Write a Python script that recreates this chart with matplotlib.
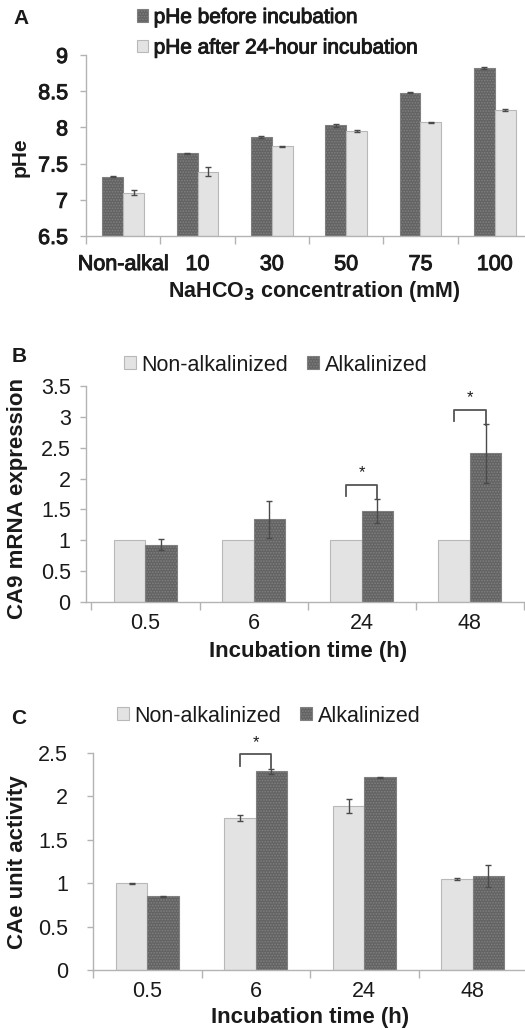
import matplotlib
matplotlib.use("Agg")
import matplotlib.pyplot as plt
import matplotlib.patheffects as pe
from matplotlib.patches import Patch
import numpy as np

plt.rcParams['font.family'] = ['Liberation Sans', 'DejaVu Sans']
plt.rcParams['hatch.linewidth'] = 0.8

# ---------------- data ----------------
a_categories = ["Non-alkal", "10", "30", "50", "75", "100"]
a_before = [7.32, 7.64, 7.87, 8.03, 8.48, 8.82]
a_before_err = [0.01, 0.01, 0.01, 0.02, 0.01, 0.01]
a_after = [7.10, 7.39, 7.74, 7.95, 8.07, 8.24]
a_after_err = [0.03, 0.06, 0.01, 0.01, 0.01, 0.02]
a_yticks = [6.5, 7, 7.5, 8, 8.5, 9]
a_yticklabels = ["6.5", "7", "7.5", "8", "8.5", "9"]

time_categories = ["0.5", "6", "24", "48"]

b_non = [1.0, 1.0, 1.0, 1.0]
b_alk = [0.93, 1.34, 1.48, 2.41]
b_alk_err = [0.085, 0.30, 0.195, 0.48]
b_yticks = [0, 0.5, 1, 1.5, 2, 2.5, 3, 3.5]
b_yticklabels = ["0", "0.5", "1", "1.5", "2", "2.5", "3", "3.5"]
b_sig_groups = [2, 3]
b_sig_top = [1.90, 3.11]
b_sig_left = [1.71, 2.93]
b_sig_right = [1.67, 2.87]

c_non = [1.00, 1.75, 1.89, 1.05]
c_non_err = [0.006, 0.035, 0.08, 0.015]
c_alk = [0.85, 2.29, 2.22, 1.085]
c_alk_err = [0.004, 0.03, 0.004, 0.13]
c_yticks = [0, 0.5, 1, 1.5, 2, 2.5]
c_yticklabels = ["0", "0.5", "1", "1.5", "2", "2.5"]
c_sig_groups = [1]
c_sig_top = [2.485]
c_sig_left = [2.35]
c_sig_right = [2.33]

# ---------------- style ----------------
W, H = 525, 1030
fig = plt.figure(figsize=(W / 100, H / 100), dpi=100)

LIGHT_FC = "#e3e3e3"
LIGHT_EC = "#b8b8b8"
DARK_FC = "#636363"
DARK_EC = "#808080"
SPINE = "#b3b3b3"
ERR = "#4a4a4a"
TXT = "#1a1a1a"
HATCH = "......"
thick = [pe.withStroke(linewidth=0.7, foreground=TXT)]


def px_axes(left, right, top, bottom):
    return fig.add_axes([left / W, 1 - bottom / H, (right - left) / W, (bottom - top) / H])


def style_axes(ax, xlim, ncat, ylim, yticks, yticklabels, tick_fs, ypad, xpad, effects=None):
    ax.set_xlim(*xlim)
    ax.set_ylim(*ylim)
    for s in ["top", "right"]:
        ax.spines[s].set_visible(False)
    for s in ["left", "bottom"]:
        ax.spines[s].set_color(SPINE)
        ax.spines[s].set_linewidth(1.0)
    ax.set_yticks(yticks)
    ax.set_yticklabels(yticklabels, fontsize=tick_fs, color=TXT)
    ax.tick_params(axis="y", length=4, width=1, color=SPINE, pad=ypad)
    ax.set_xticks(np.arange(ncat))
    ax.set_xticks(np.arange(ncat + 1) - 0.5, minor=True)
    ax.tick_params(axis="x", which="major", length=0, pad=xpad, labelsize=tick_fs, labelcolor=TXT)
    ax.tick_params(axis="x", which="minor", length=6, width=1, color=SPINE)
    if effects:
        for t in ax.get_xticklabels() + ax.get_yticklabels():
            t.set_path_effects(effects)


def place_labels(ax, left, right, top, bottom, ylab_xy, xlab_xy):
    # positions given in figure pixels
    ax.yaxis.set_label_coords((ylab_xy[0] - left) / (right - left), (bottom - ylab_xy[1]) / (bottom - top))
    ax.xaxis.set_label_coords((xlab_xy[0] - left) / (right - left), (bottom - xlab_xy[1]) / (bottom - top))
    ax.yaxis.label.set_verticalalignment("center")
    ax.yaxis.label.set_horizontalalignment("center")
    ax.xaxis.label.set_verticalalignment("center")
    ax.xaxis.label.set_horizontalalignment("center")


def bracket(ax, x0, x1, ytop, yl, yr, star_y):
    ax.plot([x0, x0, x1, x1], [yl, ytop, ytop, yr], color="#555555", lw=1.3, clip_on=False)
    ax.text((x0 + x1) / 2, star_y, "*", ha="center", va="center", fontsize=12, color=TXT)


# ---------------- Panel A ----------------
A_L, A_R, A_T, A_B = 86, 532, 55, 236
axA = px_axes(A_L, A_R, A_T, A_B)
xa = np.arange(len(a_categories))
wa = 0.28
axA.bar(xa - wa / 2, np.array(a_before) - 6.5, wa, bottom=6.5, color=DARK_FC, edgecolor=DARK_EC,
        hatch=HATCH, linewidth=0.8, zorder=2)
axA.bar(xa + wa / 2, np.array(a_after) - 6.5, wa, bottom=6.5, color=LIGHT_FC, edgecolor=LIGHT_EC,
        linewidth=0.8, zorder=2)
axA.errorbar(xa - wa / 2, a_before, yerr=a_before_err, fmt="none", ecolor=ERR, elinewidth=1, capsize=2.5, zorder=3)
axA.errorbar(xa + wa / 2, a_after, yerr=a_after_err, fmt="none", ecolor=ERR, elinewidth=1, capsize=2.5, zorder=3)
axA.set_xticklabels(a_categories)
style_axes(axA, (-0.5, 5.5), 6, (6.5, 9), a_yticks, a_yticklabels, 15.5, 9, 13, effects=thick)
axA.set_ylabel("pHe", fontsize=15, fontweight="bold", color=TXT)
axA.set_xlabel("NaHCO$_\\mathbf{3}$ concentration (mM)", fontsize=15.5, fontweight="bold", color=TXT)
place_labels(axA, A_L, A_R, A_T, A_B, (20, 157), (314, 292))
fig.text(13 / W, 1 - 19 / H, "A", fontsize=15, fontweight="bold", color=TXT, va="center", ha="left")

legA = fig.legend(handles=[Patch(facecolor=DARK_FC, edgecolor=DARK_EC, hatch=HATCH, linewidth=0.8),
                           Patch(facecolor=LIGHT_FC, edgecolor=LIGHT_EC, linewidth=0.8)],
                  labels=["pHe before incubation", "pHe after 24-hour incubation"],
                  loc="upper left", bbox_to_anchor=(137 / W, 1 - 8 / H), frameon=False,
                  fontsize=15, handlelength=0.55, handleheight=0.55, handletextpad=0.25,
                  labelspacing=0.55, borderpad=0, borderaxespad=0)
for t in legA.get_texts():
    t.set_color(TXT)
    t.set_path_effects(thick)

# ---------------- Panel B ----------------
B_L, B_R, B_T, B_B = 86, 525, 386, 602
axB = px_axes(B_L, B_R, B_T, B_B)
xt = np.arange(len(time_categories))
wb = 0.29
axB.bar(xt - wb / 2, b_non, wb, color=LIGHT_FC, edgecolor=LIGHT_EC, linewidth=0.8, zorder=2)
axB.bar(xt + wb / 2, b_alk, wb, color=DARK_FC, edgecolor=DARK_EC, hatch=HATCH, linewidth=0.8, zorder=2)
axB.errorbar(xt + wb / 2, b_alk, yerr=b_alk_err, fmt="none", ecolor=ERR, elinewidth=1, capsize=2.5, zorder=3)
axB.set_xticklabels(time_categories)
style_axes(axB, (-0.55, 3.51), 4, (0, 3.5), b_yticks, b_yticklabels, 15.5, 7, 8)
for g, yt, yl, yr in zip(b_sig_groups, b_sig_top, b_sig_left, b_sig_right):
    bracket(axB, g - wb / 2, g + wb / 2, yt, yl, yr, yt + 0.2)
axB.set_ylabel("CA9 mRNA expression", fontsize=16, fontweight="bold", color=TXT)
axB.set_xlabel("Incubation time (h)", fontsize=16, fontweight="bold", color=TXT)
place_labels(axB, B_L, B_R, B_T, B_B, (18, 498), (308, 652))
fig.text(12 / W, 1 - 357 / H, "B", fontsize=15, fontweight="bold", color=TXT, va="center", ha="left")

legB = fig.legend(handles=[Patch(facecolor=LIGHT_FC, edgecolor=LIGHT_EC, linewidth=0.8),
                           Patch(facecolor=DARK_FC, edgecolor=DARK_EC, hatch=HATCH, linewidth=0.8)],
                  labels=["Non-alkalinized", "Alkalinized"], ncol=2,
                  loc="center left", bbox_to_anchor=(124 / W, 1 - 365 / H), frameon=False,
                  fontsize=15.5, handlelength=0.55, handleheight=0.55, handletextpad=0.25,
                  columnspacing=0.9, borderpad=0, borderaxespad=0)
for t in legB.get_texts():
    t.set_color(TXT)

# ---------------- Panel C ----------------
C_L, C_R, C_T, C_B = 93, 527, 753, 970
axC = px_axes(C_L, C_R, C_T, C_B)
axC.bar(xt - wb / 2, c_non, wb, color=LIGHT_FC, edgecolor=LIGHT_EC, linewidth=0.8, zorder=2)
axC.bar(xt + wb / 2, c_alk, wb, color=DARK_FC, edgecolor=DARK_EC, hatch=HATCH, linewidth=0.8, zorder=2)
axC.errorbar(xt - wb / 2, c_non, yerr=c_non_err, fmt="none", ecolor=ERR, elinewidth=1, capsize=2.5, zorder=3)
axC.errorbar(xt + wb / 2, c_alk, yerr=c_alk_err, fmt="none", ecolor=ERR, elinewidth=1, capsize=2.5, zorder=3)
axC.set_xticklabels(time_categories)
style_axes(axC, (-0.5, 3.5), 4, (0, 2.5), c_yticks, c_yticklabels, 15.5, 14, 8)
for g, yt, yl, yr in zip(c_sig_groups, c_sig_top, c_sig_left, c_sig_right):
    bracket(axC, g - wb / 2, g + wb / 2, yt, yl, yr, yt + 0.13)
axC.set_ylabel("CAe unit activity", fontsize=16, fontweight="bold", color=TXT)
axC.set_xlabel("Incubation time (h)", fontsize=16, fontweight="bold", color=TXT)
place_labels(axC, C_L, C_R, C_T, C_B, (18, 862), (310, 1018))
fig.text(11 / W, 1 - 718 / H, "C", fontsize=15, fontweight="bold", color=TXT, va="center", ha="left")

legC = fig.legend(handles=[Patch(facecolor=LIGHT_FC, edgecolor=LIGHT_EC, linewidth=0.8),
                           Patch(facecolor=DARK_FC, edgecolor=DARK_EC, hatch=HATCH, linewidth=0.8)],
                  labels=["Non-alkalinized", "Alkalinized"], ncol=2,
                  loc="center left", bbox_to_anchor=(117 / W, 1 - 716 / H), frameon=False,
                  fontsize=15.5, handlelength=0.55, handleheight=0.55, handletextpad=0.25,
                  columnspacing=0.9, borderpad=0, borderaxespad=0)
for t in legC.get_texts():
    t.set_color(TXT)

fig.savefig("out.png", dpi=100)
